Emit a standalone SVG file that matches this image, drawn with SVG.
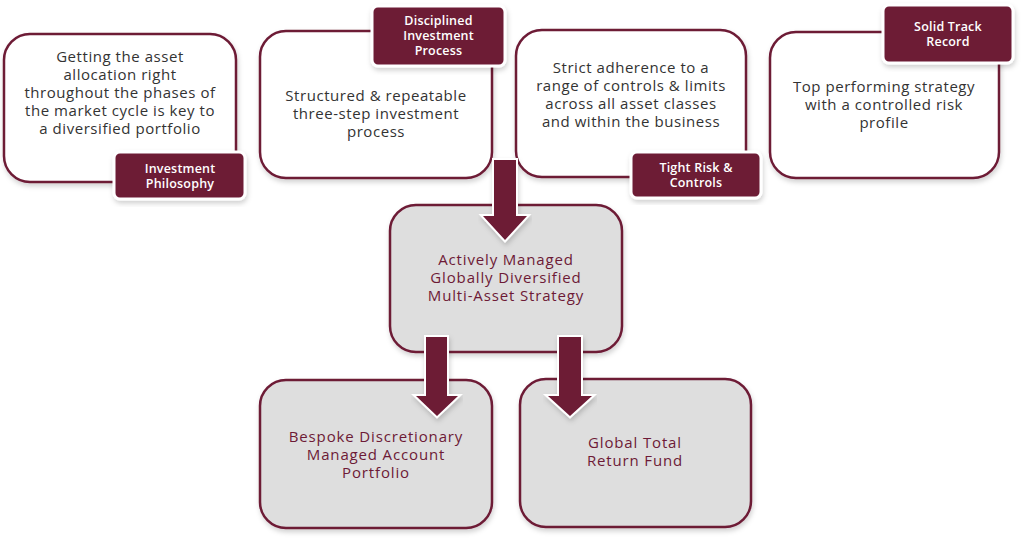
<svg xmlns="http://www.w3.org/2000/svg" width="1028" height="543" viewBox="0 0 1028 543">
<defs>
<filter id="sh" x="-10%" y="-10%" width="120%" height="125%">
<feDropShadow dx="1" dy="3" stdDeviation="2.5" flood-color="#000" flood-opacity="0.18"/>
</filter>
<style>
.box{fill:#ffffff;stroke:#6d1a36;stroke-width:2.5;filter:url(#sh)}
.gbox{fill:#dedede;stroke:#6d1a36;stroke-width:2.5;filter:url(#sh)}
.lbl{fill:#6d1a36;stroke:#ffffff;stroke-width:3;filter:url(#sh)}
.t{font-family:"Open Sans","Liberation Sans",sans-serif;font-size:15px;letter-spacing:0.55px;fill:#333333;text-anchor:middle}
.tm{font-family:"Open Sans","Liberation Sans",sans-serif;font-size:15px;letter-spacing:0.85px;fill:#6d1a36;text-anchor:middle}
.tl{font-family:"Open Sans","Liberation Sans",sans-serif;font-size:12.5px;font-weight:600;letter-spacing:0.2px;fill:#ffffff;text-anchor:middle}
.arr{fill:#6d1a36;stroke:#ffffff;stroke-width:4;stroke-linejoin:miter;paint-order:stroke;filter:url(#sh)}
</style>
</defs>
<rect width="1028" height="543" fill="#ffffff"/>

<g id="node-philosophy">
<rect class="box" x="4" y="34" width="232" height="148" rx="26"/>
<text class="t"><tspan x="120" y="62">Getting the asset</tspan><tspan x="120" y="80">allocation right</tspan><tspan x="120" y="98">throughout the phases of</tspan><tspan x="120" y="116">the market cycle is key to</tspan><tspan x="120" y="134">a diversified portfolio</tspan></text>
<rect class="lbl" x="114" y="152" width="131" height="47" rx="6"/>
<text class="tl"><tspan x="180" y="173">Investment</tspan><tspan x="180" y="188">Philosophy</tspan></text>
</g>

<g id="node-process">
<rect class="box" x="260" y="31" width="232" height="147" rx="26"/>
<text class="t"><tspan x="376" y="101">Structured &amp; repeatable</tspan><tspan x="376" y="119">three-step investment</tspan><tspan x="376" y="137">process</tspan></text>
<rect class="lbl" x="372" y="6" width="133" height="60" rx="6"/>
<text class="tl"><tspan x="438.5" y="25">Disciplined</tspan><tspan x="438.5" y="40">Investment</tspan><tspan x="438.5" y="55">Process</tspan></text>
</g>

<g id="node-risk">
<rect class="box" x="516" y="30" width="230" height="147" rx="26"/>
<text class="t"><tspan x="631" y="73">Strict adherence to a</tspan><tspan x="631" y="91">range of controls &amp; limits</tspan><tspan x="631" y="109">across all asset classes</tspan><tspan x="631" y="127">and within the business</tspan></text>
<rect class="lbl" x="631" y="152" width="130" height="46" rx="6"/>
<text class="tl"><tspan x="696" y="172">Tight Risk &amp;</tspan><tspan x="696" y="187">Controls</tspan></text>
</g>

<g id="node-track">
<rect class="box" x="770" y="32" width="229" height="146" rx="26"/>
<text class="t"><tspan x="884" y="92">Top performing strategy</tspan><tspan x="884" y="110">with a controlled risk</tspan><tspan x="884" y="128">profile</tspan></text>
<rect class="lbl" x="883" y="5" width="130" height="58" rx="6"/>
<text class="tl"><tspan x="948" y="31">Solid Track</tspan><tspan x="948" y="46">Record</tspan></text>
</g>

<g id="node-strategy">
<rect class="gbox" x="390" y="205" width="232" height="147" rx="26"/>
<text class="tm"><tspan x="506" y="265">Actively Managed</tspan><tspan x="506" y="283">Globally Diversified</tspan><tspan x="506" y="301">Multi-Asset Strategy</tspan></text>
</g>

<g id="node-bespoke">
<rect class="gbox" x="260" y="380" width="232" height="148" rx="26"/>
<text class="tm"><tspan x="376" y="442">Bespoke Discretionary</tspan><tspan x="376" y="460">Managed Account</tspan><tspan x="376" y="478">Portfolio</tspan></text>
</g>

<g id="node-fund">
<rect class="gbox" x="520" y="379" width="231" height="148" rx="26"/>
<text class="tm"><tspan x="635" y="448">Global Total</tspan><tspan x="635" y="466">Return Fund</tspan></text>
</g>

<g id="connectors">
<path class="arr" d="M494,160 H516 V216 H527 L505,240 L483,216 H494 Z"/>
<path class="arr" d="M426,337 H447 V396 H458 L437,416 L416,396 H426 Z"/>
<path class="arr" d="M559,337 H581 V396 H592 L570,416 L548,396 H559 Z"/>
</g>
</svg>
